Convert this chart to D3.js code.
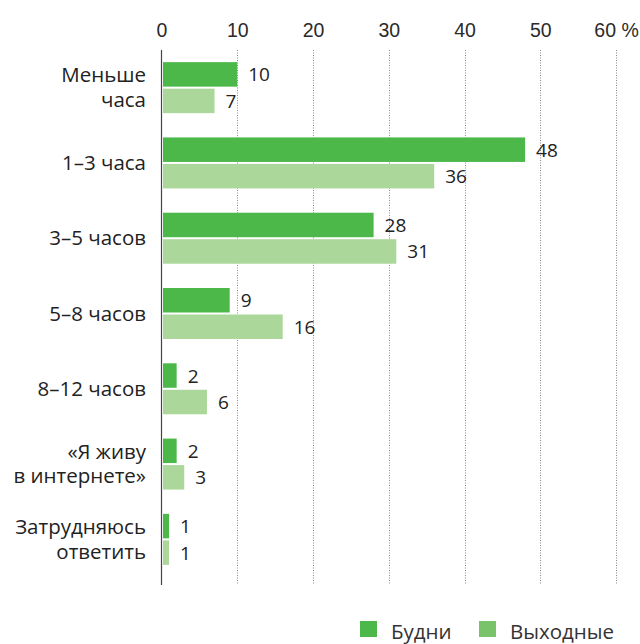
<!DOCTYPE html>
<html><head><meta charset="utf-8">
<script src="https://cdn.jsdelivr.net/npm/d3@7"></script>
<style>body{margin:0;background:#fff}svg{display:block;font-family:"Open Sans","Noto Sans",sans-serif}</style>
</head><body>
<svg id="chart" width="640" height="644"></svg>
<script>
// Time spent online: weekdays vs weekends, % of respondents
const categories = [["Меньше","часа"],["1–3 часа"],["3–5 часов"],["5–8 часов"],["8–12 часов"],["«Я живу","в интернете»"],["Затрудняюсь","ответить"]];
const weekdays = [10, 48, 28, 9, 2, 2, 1];
const weekends = [7, 36, 31, 16, 6, 3, 1];
const seriesNames = ["Будни", "Выходные"];
const tickValues = [0, 10, 20, 30, 40, 50, 60];

const svg = d3.select("#chart");
const x = d3.scaleLinear().domain([0, 60]).range([161.5, 616]);
const y = d3.scaleBand().domain(d3.range(categories.length)).range([50, 577]);
const dark = "#4cb84a", light = "#acd79b", legendLight = "#79c46b";
const barH = 24.5, gap = 2;

// dotted grid lines
svg.append("g").selectAll("line").data(tickValues.slice(1)).join("line")
  .attr("x1", d => Math.round(x(d)) + 0.5).attr("x2", d => Math.round(x(d)) + 0.5)
  .attr("y1", 50).attr("y2", 585)
  .attr("stroke", "#8a8a8a").attr("stroke-width", 1).attr("stroke-dasharray", "1,1.5");

// top axis labels
const axis = d3.axisTop(x).tickValues(tickValues).tickSize(0).tickPadding(0)
  .tickFormat(d => d === 60 ? "60 %" : d);
const ag = svg.append("g").attr("transform", "translate(0,37)").call(axis);
ag.select(".domain").remove();
ag.selectAll("text").attr("font-size", 19.5).attr("fill", "#2a2a2a").attr("font-family", "inherit");

// bars
const groups = svg.append("g").selectAll("g").data(categories).join("g");
groups.each(function(c, i) {
  const g = d3.select(this);
  const mid = y(i) + y.bandwidth() / 2;
  const rows = [{v: weekdays[i], col: dark, y0: mid - gap / 2 - barH},
                {v: weekends[i], col: light, y0: mid + gap / 2}];
  rows.forEach(r => {
    g.append("rect").attr("x", x(0) + 1.5).attr("y", r.y0)
      .attr("width", x(r.v) - x(0) - 1.5).attr("height", barH).attr("fill", r.col);
    g.append("text").attr("x", x(r.v) + 11).attr("y", r.y0 + barH / 2 + 7)
      .attr("font-size", 19).attr("fill", "#222").text(r.v);
  });
  const t = g.append("text").attr("text-anchor", "end").attr("font-size", 20.5).attr("fill", "#222");
  const lh = 24.5;
  c.forEach((line, k) => {
    t.append("tspan").attr("x", 146)
      .attr("y", mid + 7 + (k - (c.length - 1) / 2) * lh).text(line);
  });
});

// zero axis line
svg.append("line").attr("x1", 161.5).attr("x2", 161.5).attr("y1", 50).attr("y2", 585)
  .attr("stroke", "#444").attr("stroke-width", 1.2);

// legend
const legend = [{name: seriesNames[0], col: dark, x: 360}, {name: seriesNames[1], col: legendLight, x: 479}];
const lg = svg.append("g").selectAll("g").data(legend).join("g");
lg.append("rect").attr("x", d => d.x).attr("y", 621).attr("width", 17).attr("height", 16).attr("fill", d => d.col);
lg.append("text").attr("x", d => d.x + 31).attr("y", 638.5).attr("font-size", 20.5).attr("fill", "#333").text(d => d.name);
</script>
</body></html>
